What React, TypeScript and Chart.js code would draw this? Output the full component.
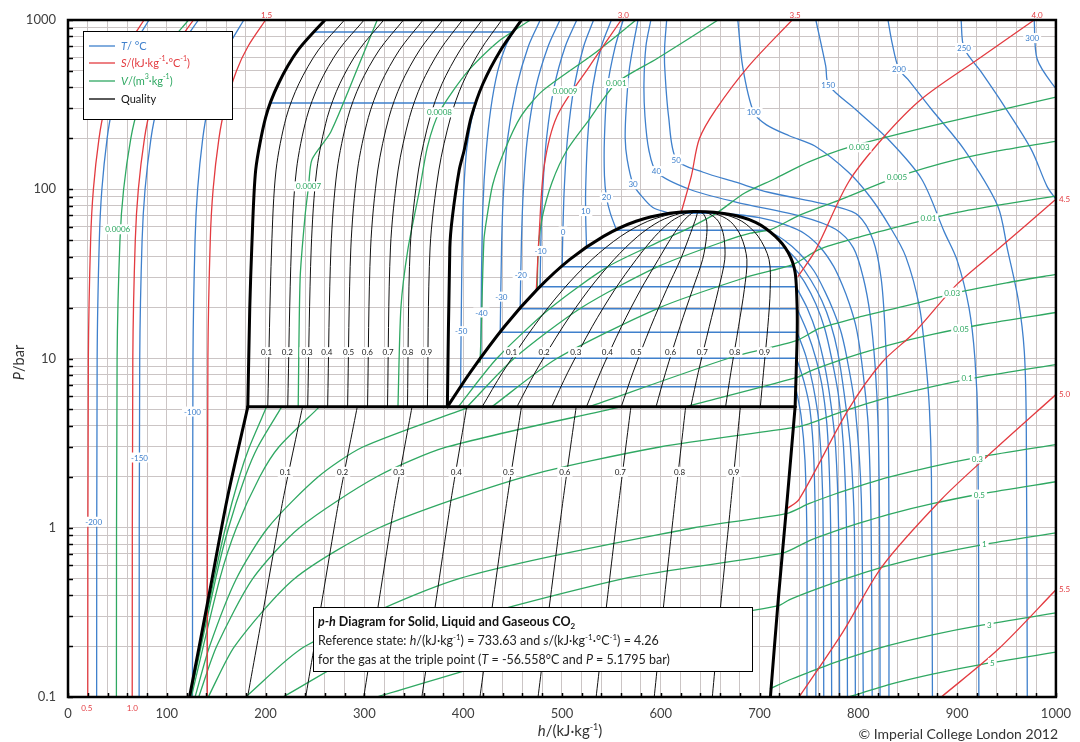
import { useEffect, useRef } from 'react';
import { Chart, registerables } from 'chart.js';

Chart.register(...registerables);

type Pt = [number, number];

// ---------------- axes ----------------
const hMin = 0;
const hMax = 1000;
const hGridStep = 20;
const hLabelStep = 100;
const pMin = 0.1;
const pMax = 1000;
const pDecades = [0.1, 1, 10, 100];
const pMantissas = [1, 2, 3, 4, 5, 6, 7, 8, 9];
const pLabelValues = [0.1, 1, 10, 100, 1000];

// ---------------- phase boundaries [h kJ/kg, p bar] ----------------
const solidMeltLine: Pt[] = [[182, 5.18], [184, 20], [186, 45], [190, 130], [200, 265], [213, 420], [233, 665], [260, 1000]];
const liquidMeltLine: Pt[] = [[384, 5.18], [386.5, 45], [389, 68], [396, 130], [401, 170], [408, 265], [420, 420], [438, 665], [459, 1000]];
const solidSublimationLine: Pt[] = [[123, 0.1], [142, 0.38], [161, 1.47], [182, 5.18]];
const vaporSublimationLine: Pt[] = [[711, 0.1], [719, 0.38], [728, 1.47], [736, 5.18]];
const tripleLine: Pt[] = [[182, 5.18], [736, 5.18]];
const saturationDome: Pt[] = [[384, 5.18], [407, 8.26], [442, 15.5], [475, 25.6], [508, 38.5], [542, 52.7], [575, 64.7], [609, 72.1], [636, 73.8], [669, 71.1], [696, 63.8], [716, 52.7], [729, 42.3], [736, 32.3], [738, 20.3], [738, 12.9], [736, 5.18]];

// ---------------- quality lines ----------------
const qualityValues = ['0.1', '0.2', '0.3', '0.4', '0.5', '0.6', '0.7', '0.8', '0.9'];
const qualitySLPressures = [5.18, 45, 130, 265, 420, 665, 1000];
const qualitySLEnthalpy = [
  [202.2, 206.1, 210.6, 220.8, 233.7, 253.5, 279.9],
  [222.4, 226.1, 231.2, 241.6, 254.4, 274, 299.8],
  [242.6, 246.2, 251.8, 262.4, 275.1, 294.5, 319.7],
  [262.8, 266.2, 272.4, 283.2, 295.8, 315, 339.6],
  [283, 286.3, 293, 304, 316.5, 335.5, 359.5],
  [303.2, 306.3, 313.6, 324.8, 337.2, 356, 379.4],
  [323.4, 326.4, 334.2, 345.6, 357.9, 376.5, 399.3],
  [343.6, 346.4, 354.8, 366.4, 378.6, 397, 419.2],
  [363.8, 366.5, 375.4, 387.2, 399.3, 417.5, 439.1],
];
const qualityDomePressures = [5.18, 8.3, 15.5, 25.6, 38.5, 52.7, 64.7, 72.1, 73.8];
const qualityDomeEnthalpy = [
  [419.2, 440, 471.6, 501.2, 530.4, 559.4, 586.9, 614.6, 636],
  [454.4, 473, 501.2, 527.4, 552.8, 576.8, 598.8, 620.2, 636],
  [489.6, 506, 530.8, 553.6, 575.2, 594.2, 610.7, 625.8, 636],
  [524.8, 539, 560.4, 579.8, 597.6, 611.6, 622.6, 631.4, 636],
  [560, 572, 590, 606, 620, 629, 634.5, 637, 636],
  [595.2, 605, 619.6, 632.2, 642.4, 646.4, 646.4, 642.6, 636],
  [630.4, 638, 649.2, 658.4, 664.8, 663.8, 658.3, 648.2, 636],
  [665.6, 671, 678.8, 684.6, 687.2, 681.2, 670.2, 653.8, 636],
  [700.8, 704, 708.4, 710.8, 709.6, 698.6, 682.1, 659.4, 636],
];
const qualitySVPressures = [0.1, 0.38, 1.47, 5.18];
const qualitySVEnthalpy = [
  [181.8, 199.7, 217.7, 237.4],
  [240.6, 257.4, 274.4, 292.8],
  [299.4, 315.1, 331.1, 348.2],
  [358.2, 372.8, 387.8, 403.6],
  [417, 430.5, 444.5, 459],
  [475.8, 488.2, 501.2, 514.4],
  [534.6, 545.9, 557.9, 569.8],
  [593.4, 603.6, 614.6, 625.2],
  [652.2, 661.3, 671.3, 680.6],
];

// ---------------- solid-region lines (h at solidRegionPressures) ----------------
const solidRegionPressures = [0.1, 10, 50, 100, 200, 300, 500, 700, 1000];
const isoSolidM200 = [29, 29.5, 31.7, 34.3, 39.6, 44.9, 55.5, 66.1, 82];
const isoSolidM150 = [72, 72.6, 75, 78, 84, 90, 102, 114, 132];
const isoSolidM100 = [126, 126.5, 128.6, 131.2, 136.4, 141.6, 152, 162.4, 178];
const entSolid05 = [20, 20.6, 22.9, 25.7, 31.4, 37.1, 48.5, 60, 77];
const entSolid10 = [65, 65.6, 68.1, 71.2, 77.4, 83.6, 96, 108.4, 127];
const entSolid15 = [141, 141.6, 144, 146.9, 152.8, 158.7, 170.5, 182.3, 200];
const volSolid0006 = [49, 49.7, 52.6, 56.3, 63.6, 70.9, 85.5, 100.1, 122];

// ---------------- isotherms ----------------
const satPressure = [6.8, 10.05, 14.3, 19.7, 26.5, 34.9, 45.0, 57.3, 72.1];
const satLiquidH = [397.4, 417.9, 437.5, 457.7, 477.8, 500.2, 524.9, 555.3, 609];
const satVaporH = [736.5, 737.4, 738, 738, 737, 734.5, 726, 708, 665];

const isoLiqM50: Pt[] = [[397.4, 6.8], [398.5, 30], [400, 80], [403, 160], [408, 250], [413, 323]];
const isoMeltM50: Pt[] = [[205.6, 323], [413, 323]];
const isoLiqM40: Pt[] = [[417.9, 10.05], [418.5, 30], [420, 80], [423, 160], [428, 300], [435, 500], [443, 700], [450.6, 849]];
const isoMeltM40: Pt[] = [[249, 849], [450.6, 849]];
const isoLiqM30: Pt[] = [[437.5, 14.3], [439, 50], [441, 100], [445, 200], [454, 400], [466, 700], [478, 1000]];
const isoLiqM20: Pt[] = [[457.7, 19.7], [459, 50], [461, 100], [465, 200], [473.5, 400], [486, 700], [498, 1000]];
const isoLiqM10: Pt[] = [[477.8, 26.5], [478.7, 50], [480.6, 100], [484.4, 200], [492, 400], [503.4, 700], [515, 1000]];
const isoLiq0: Pt[] = [[500.2, 34.9], [500.7, 50], [502.3, 100], [505.6, 200], [512.2, 400], [522, 700], [532, 1000]];
const isoLiq10: Pt[] = [[524.9, 45], [524, 70], [524, 100], [526, 200], [531, 400], [540, 700], [550, 1000]];
const isoLiq20: Pt[] = [[555.3, 57.3], [549, 72], [545, 90], [543, 120], [543, 200], [546, 400], [554, 700], [562, 1000]];
const isoLiq30: Pt[] = [[609, 72.1], [592, 78], [580, 92], [572, 107], [566, 150], [564, 200], [565, 300], [568, 500], [572, 700], [577, 1000]];

const isoVapM50: Pt[] = [[736.5, 6.8], [742, 4.6], [746, 2.5], [748, 0.8], [748, 0.1]];
const isoVapM40: Pt[] = [[737.4, 10.05], [745, 7.3], [751, 5], [755, 2.5], [757, 0.6], [757, 0.1]];
const isoVapM30: Pt[] = [[738, 14.3], [747, 10.3], [754, 7], [760, 4.2], [764, 1.5], [765, 0.1]];
const isoVapM20: Pt[] = [[738, 19.7], [748, 14.5], [757, 10], [764, 6.5], [769, 3.5], [772, 1], [773, 0.1]];
const isoVapM10: Pt[] = [[737, 26.5], [748, 20], [758, 14], [766, 9], [772, 5.5], [777, 3], [780, 1], [781, 0.1]];
const isoVap0: Pt[] = [[734.5, 34.9], [746, 28], [757, 21], [766, 15], [773, 10], [780, 6], [785, 3], [788, 1], [789, 0.1]];
const isoVap10: Pt[] = [[726, 45], [738, 38], [752, 29], [763, 22], [772, 16], [779, 11], [786, 6], [792, 3], [796, 1], [797, 0.1]];
const isoVap20: Pt[] = [[708, 57.3], [725, 50], [740, 42], [755, 33], [766, 25], [775, 19], [783, 14], [790, 9], [797, 5], [803, 1.5], [805, 0.1]];
const isoVap30: Pt[] = [[665, 72.1], [700, 68], [725, 62], [745, 55], [762, 45], [775, 35], [784, 27], [791, 21], [797, 16], [801, 12], [805, 8], [810, 4], [813, 1], [814, 0.1]];
const iso40: Pt[] = [[590, 1000], [585, 700], [583, 420], [584, 270], [588, 170], [596, 126], [629, 100], [676, 84], [743, 69], [777, 58], [795, 45], [805, 30], [812, 18], [817, 9], [820, 4], [821.5, 1], [822, 0.1]];
const iso50: Pt[] = [[606, 1000], [604, 700], [604, 527], [608, 267], [616, 149], [643, 126], [676, 110], [709, 96], [777, 79], [800, 70], [815, 50], [823, 30], [827, 15], [830, 5], [831, 1], [831, 0.1]];
const iso100: Pt[] = [[678, 1000], [683, 527], [694, 286], [707, 240], [730, 207], [756, 180], [790, 126], [812, 90], [832, 60], [848, 40], [862, 20], [868, 10], [872, 5], [874, 2], [875, 0.1]];
const iso150: Pt[] = [[757, 1000], [767, 534], [770, 412], [797, 297], [830, 198], [864, 115], [887, 56], [900, 38], [912, 20], [918, 10], [921, 4], [922, 0.1]];
const iso200: Pt[] = [[830, 1000], [834, 741], [841, 513], [850, 447], [874, 297], [907, 172], [941, 80], [951, 44], [962, 22], [968, 11], [970, 4], [971, 0.1]];
const iso250: Pt[] = [[904, 1000], [907, 683], [924.5, 492], [947.7, 310], [975, 172], [991, 104], [1000, 87], [1010, 70]];
const iso300: Pt[] = [[978, 1000], [981, 588], [998, 407], [1010, 350]];

// ---------------- isentropes ----------------
const ent30: Pt[] = [[474, 25], [477, 55.5], [482, 137], [495, 270], [528, 534], [560, 1000]];
const ent35: Pt[] = [[621, 74], [631, 120], [639, 198], [656, 297], [689, 534], [733, 1000]];
const ent40: Pt[] = [[739, 30.6], [757, 44], [790, 110], [824, 198], [864, 341], [920, 580], [978, 1000]];
const ent45: Pt[] = [[728, 1.3], [740, 1.47], [790, 5.0], [824, 9.5], [857, 14.3], [900, 27.5], [941, 44], [1000, 87.3]];
const ent50: Pt[] = [[740, 0.1], [784, 0.24], [824, 0.59], [884, 1.47], [930, 2.63], [1000, 6.12]];
const ent55: Pt[] = [[884, 0.1], [941, 0.19], [1000, 0.43]];

// ---------------- isochores ----------------
const vol0007: Pt[] = [[233, 5.18], [235, 30], [240, 70], [243.5, 104], [247, 150], [266, 218], [294, 534], [313, 1000]];
const vol0008: Pt[] = [[334, 5.18], [337, 20], [344, 44], [356, 100], [364, 180], [376, 286], [404, 492], [435, 741], [468, 1000]];
const vol0009: Pt[] = [[417, 9.5], [418, 13], [421, 50], [424, 68], [430, 107], [442, 170], [458, 267], [480, 380], [532, 630], [575, 1000]];
const vol0010: Pt[] = [[475, 26], [476, 44], [480, 68], [490, 110], [505, 170], [528, 260], [555, 424], [596, 590], [658, 1000]];
const vol0003: Pt[] = [[395, 5.18], [434, 10], [489, 20], [547, 35], [602, 50], [631, 60], [656, 72], [685, 95], [715, 115], [750, 145], [790, 177], [890, 249], [1000, 350]];
const vol0005: Pt[] = [[404, 5.18], [451.5, 10], [520, 20], [597.6, 35], [667.5, 50], [691, 55], [712, 58], [740, 70], [780, 86], [839, 118], [900, 150], [950, 172], [1000, 192]];
const vol001: Pt[] = [[429, 5.18], [494.8, 10], [599, 20], [685, 30], [734, 36], [760, 44], [800, 52], [850, 62], [900, 73], [950, 82], [1000, 91]];
const vol003: Pt[] = [[527, 5.18], [668, 10], [738, 12.8], [760, 15], [800, 17.5], [850, 20.6], [900, 24.5], [950, 28], [1000, 31.4]];
const vol005: Pt[] = [[625, 5.18], [737, 7.7], [750, 8.37], [775, 9.48], [800, 10.6], [830, 11.97], [875, 13.87], [925, 15.88], [1000, 18.7]];
const vol0003SV: Pt[] = [[123.4, 0.1], [147.9, 0.5], [159.4, 1], [173.4, 2], [183.6, 3], [201, 5.18]];
const vol0005SV: Pt[] = [[123.8, 0.1], [149.5, 0.5], [162.5, 1], [179.3, 2], [192.1, 3], [216.3, 5.18]];
const vol001SV: Pt[] = [[124.8, 0.1], [153.7, 0.5], [170.5, 1], [194.1, 2], [213.4, 3], [254.5, 5.18]];
const vol003SV: Pt[] = [[128.6, 0.1], [143.4, 0.2], [170.4, 0.5], [202.4, 1], [253.3, 2], [298.5, 3], [407, 5.18]];
const vol005SV: Pt[] = [[132.3, 0.1], [150.6, 0.2], [187, 0.5], [234.3, 1], [312.5, 2], [383.6, 3], [559.6, 5.18]];
const vol01: Pt[] = [[142, 0.1], [168.8, 0.2], [229.2, 0.5], [315, 1], [462, 2], [599, 3], [734, 3.9], [750, 4.115], [775, 4.66], [800, 5.21], [830, 5.89], [875, 6.82], [925, 7.81], [1000, 9.2]];
const vol03: Pt[] = [[179.8, 0.1], [240.5, 0.2], [395.9, 0.5], [633.7, 1], [726.7, 1.21], [750, 1.387], [775, 1.572], [800, 1.756], [830, 1.984], [875, 2.299], [925, 2.632], [1000, 3.1]];
const vol05: Pt[] = [[217.5, 0.1], [312.5, 0.2], [562.3, 0.5], [723, 0.707], [750, 0.837], [775, 0.948], [800, 1.06], [830, 1.197], [875, 1.387], [925, 1.588], [1000, 1.87]];
const vol1: Pt[] = [[312.4, 0.1], [491.9, 0.2], [718.4, 0.345], [730, 0.375], [750, 0.418], [775, 0.473], [800, 0.529], [830, 0.598], [875, 0.693], [925, 0.793], [1000, 0.934]];
const vol3: Pt[] = [[711, 0.112], [730, 0.126], [750, 0.14], [775, 0.159], [800, 0.178], [830, 0.201], [875, 0.233], [925, 0.266], [1000, 0.314]];
const vol5: Pt[] = [[790, 0.1], [800, 0.104], [830, 0.118], [875, 0.1365], [925, 0.156], [1000, 0.184]];

// ---------------- curve labels ----------------
const tempLabelText = ['-200', '-150', '-100', '-50', '-40', '-30', '-20', '-10', '0', '10', '20', '30', '40', '50', '100', '150', '200', '250', '300'];
const tempLabelH = [26, 72.4, 126, 398, 418.5, 438.6, 458.3, 478.4, 501, 524, 545, 572, 595.6, 615.7, 694, 769.6, 841, 907, 976];
const tempLabelP = [1.085, 2.6, 4.86, 14.5, 18.7, 23.2, 31, 43.2, 56.3, 74.3, 89.5, 107, 128, 150, 285, 413, 513, 683, 782];
const volLabelText = ['0.0006', '0.0007', '0.0008', '0.0009', '0.001', '0.003', '0.005', '0.01', '0.03', '0.05', '0.1', '0.3', '0.5', '1', '3', '5'];
const volLabelH = [50.3, 243.5, 376, 503, 555, 801, 839, 871, 895, 904, 910, 920.5, 922.5, 927.5, 932.6, 935.6];
const volLabelP = [58, 104, 285, 380, 424, 177, 118, 67.3, 24.5, 14.9, 7.73, 2.56, 1.57, 0.8, 0.267, 0.159];
const qualityLabelSLH = [201, 222, 242, 262, 284, 303, 324, 344, 363];
const qualityLabelSLP = 10.9;
const qualityLabelDomeH = [449, 482, 514, 546, 575, 610, 642, 675, 705];
const qualityLabelDomeP = 10.9;
const qualityLabelSVH = [220, 278, 335, 393, 446, 503, 559, 619, 674];
const qualityLabelSVP = 2.14;
const entLabelTopText = ['1.5', '3.0', '3.5', '4.0'];
const entLabelTopH = [201, 562, 736, 981];
const entLabelRightText = ['4.5', '5.0', '5.5'];
const entLabelRightP = [87.3, 6.12, 0.43];
const entLabelBottomText = ['0.5', '1.0'];
const entLabelBottomH = [19, 65];

// ---------------- styling ----------------
const FONT = 'Lato, "Open Sans", "Liberation Sans", sans-serif';
const BLUE = '#3f80cc';
const RED = '#e33b40';
const GREEN = '#2fa862';
const BLACK = '#111111';
const GRID = '#cbc5c5';

type Part = { t: string; i?: boolean; b?: boolean; sup?: boolean; sub?: boolean };

function partFont(p: Part, size: number) {
  const s = p.sup || p.sub ? Math.round(size * 0.62) : size;
  return `${p.i ? 'italic ' : ''}${p.b ? 'bold ' : ''}${s}px ${FONT}`;
}
function drawRich(ctx: CanvasRenderingContext2D, parts: Part[], x: number, y: number, size: number, color: string, align: 'left' | 'center' | 'right' = 'left') {
  let total = 0;
  for (const p of parts) { ctx.font = partFont(p, size); total += ctx.measureText(p.t).width; }
  let cx = align === 'center' ? x - total / 2 : align === 'right' ? x - total : x;
  ctx.fillStyle = color;
  ctx.textAlign = 'left';
  for (const p of parts) {
    ctx.font = partFont(p, size);
    const dy = p.sup ? -size * 0.38 : p.sub ? size * 0.2 : 0;
    ctx.fillText(p.t, cx, y + dy);
    cx += ctx.measureText(p.t).width;
  }
}

const zip = (hs: number[], ps: number[]): Pt[] => hs.map((h, i) => [h, ps[i]]);

function line(pts: Pt[], color: string, width: number, order = 2, tension = 0.3) {
  return {
    data: pts.map(([h, p]) => ({ x: h, y: p })),
    borderColor: color,
    backgroundColor: color,
    borderWidth: width,
    showLine: true,
    pointRadius: 0,
    tension,
    order,
    fill: false,
  };
}

function buildDatasets() {
  const ds: any[] = [];
  [solidMeltLine, liquidMeltLine, solidSublimationLine, vaporSublimationLine, tripleLine, saturationDome].forEach((pts) => ds.push(line(pts, '#000', 3, 0, 0.25)));
  qualitySLEnthalpy.forEach((hs) => ds.push(line(zip(hs, qualitySLPressures), BLACK, 1, 1, 0.3)));
  qualityDomeEnthalpy.forEach((hs) => ds.push(line(zip(hs, qualityDomePressures), BLACK, 1, 1, 0.3)));
  qualitySVEnthalpy.forEach((hs) => ds.push(line(zip(hs, qualitySVPressures), BLACK, 1, 1, 0.2)));
  [entSolid05, entSolid10, entSolid15].forEach((hs) => ds.push(line(zip(hs, solidRegionPressures), RED, 1.3, 2)));
  [ent30, ent35, ent40, ent45, ent50, ent55].forEach((pts) => ds.push(line(pts, RED, 1.3, 2)));
  ds.push(line(zip(volSolid0006, solidRegionPressures), GREEN, 1.3, 3));
  [vol0007, vol0008, vol0009, vol0010, vol0003, vol0005, vol001, vol003, vol005, vol0003SV, vol0005SV, vol001SV, vol003SV, vol005SV, vol01, vol03, vol05, vol1, vol3, vol5].forEach((pts) => ds.push(line(pts, GREEN, 1.3, 3, 0.25)));
  [isoSolidM200, isoSolidM150, isoSolidM100].forEach((hs) => ds.push(line(zip(hs, solidRegionPressures), BLUE, 1.3, 4)));
  satPressure.forEach((p, i) => ds.push(line([[satLiquidH[i], p], [satVaporH[i], p]], BLUE, 1.5, 4, 0)));
  [isoMeltM50, isoMeltM40].forEach((pts) => ds.push(line(pts, BLUE, 1.5, 4, 0)));
  [isoLiqM50, isoLiqM40, isoLiqM30, isoLiqM20, isoLiqM10, isoLiq0, isoLiq10, isoLiq20, isoLiq30,
    isoVapM50, isoVapM40, isoVapM30, isoVapM20, isoVapM10, isoVap0, isoVap10, isoVap20, isoVap30,
    iso40, iso50, iso100, iso150, iso200, iso250, iso300].forEach((pts) => ds.push(line(pts, BLUE, 1.3, 4, 0.3)));
  return ds;
}

const yTickValues = pDecades.flatMap((d) => pMantissas.map((m) => Number((d * m).toPrecision(6)))).concat([pMax]);

const overlayPlugin = {
  id: 'phOverlay',
  afterDatasetsDraw(chart: any) {
    const { ctx, scales } = chart;
    const x = scales.x, y = scales.y;
    ctx.save();
    const tag = (text: string, h: number, p: number, color: string) => {
      const px = x.getPixelForValue(h), py = y.getPixelForValue(p);
      ctx.font = `8px ${FONT}`;
      const w = ctx.measureText(text).width;
      ctx.fillStyle = '#fff';
      ctx.fillRect(px - w / 2 - 2, py - 5, w + 4, 10);
      ctx.fillStyle = color;
      ctx.textAlign = 'center';
      ctx.textBaseline = 'middle';
      ctx.fillText(text, px, py + 0.5);
    };
    tempLabelText.forEach((t, i) => tag(t, tempLabelH[i], tempLabelP[i], BLUE));
    volLabelText.forEach((t, i) => tag(t, volLabelH[i], volLabelP[i], GREEN));
    qualityValues.forEach((t, i) => tag(t, qualityLabelSLH[i], qualityLabelSLP, '#222'));
    qualityValues.forEach((t, i) => tag(t, qualityLabelDomeH[i], qualityLabelDomeP, '#222'));
    qualityValues.forEach((t, i) => tag(t, qualityLabelSVH[i], qualityLabelSVP, '#222'));

    // legend box
    ctx.fillStyle = '#fff';
    ctx.fillRect(83, 31, 150, 89);
    ctx.strokeStyle = '#000';
    ctx.lineWidth = 1;
    ctx.strokeRect(83.5, 31.5, 149, 88);
    const legendRows: [Part[], string, number][] = [
      [[{ t: 'T', i: true }, { t: '/ °C' }], BLUE, 46],
      [[{ t: 'S', i: true }, { t: '/(kJ·kg' }, { t: '-1', sup: true }, { t: '·°C' }, { t: '-1', sup: true }, { t: ')' }], RED, 63],
      [[{ t: 'V', i: true }, { t: '/(m' }, { t: '3', sup: true }, { t: '·kg' }, { t: '-1', sup: true }, { t: ')' }], GREEN, 81],
      [[{ t: 'Quality' }], '#111', 99],
    ];
    ctx.textBaseline = 'middle';
    legendRows.forEach(([parts, color, ly]) => {
      ctx.strokeStyle = color === '#111' ? '#000' : color;
      ctx.lineWidth = 1.3;
      ctx.beginPath();
      ctx.moveTo(89, ly);
      ctx.lineTo(115, ly);
      ctx.stroke();
      drawRich(ctx, parts, 121, ly, 11, color);
    });

    // info box
    ctx.fillStyle = '#fff';
    ctx.fillRect(313, 607, 440, 65);
    ctx.strokeStyle = '#000';
    ctx.lineWidth = 1;
    ctx.strokeRect(313.5, 607.5, 439, 64);
    ctx.textBaseline = 'alphabetic';
    drawRich(ctx, [{ t: 'p-h', i: true, b: true }, { t: ' Diagram for Solid, Liquid and Gaseous CO', b: true }, { t: '2', b: true, sub: true }], 318, 626, 12.5, '#111');
    drawRich(ctx, [{ t: 'Reference state: ' }, { t: 'h', i: true }, { t: '/(kJ·kg' }, { t: '-1', sup: true }, { t: ') = 733.63 and ' }, { t: 's', i: true }, { t: '/(kJ·kg' }, { t: '-1', sup: true }, { t: '·°C' }, { t: '-1', sup: true }, { t: ') = 4.26' }], 318, 645, 12.5, '#222');
    drawRich(ctx, [{ t: 'for the gas at the triple point (' }, { t: 'T', i: true }, { t: ' = -56.558°C and ' }, { t: 'P', i: true }, { t: ' = 5.1795 bar)' }], 318, 664, 12.5, '#222');
    ctx.restore();
  },
  afterDraw(chart: any) {
    const { ctx, chartArea: a, scales } = chart;
    const x = scales.x, y = scales.y;
    ctx.save();
    ctx.strokeStyle = '#000';
    ctx.lineWidth = 1.5;
    yTickValues.forEach((v) => {
      const py = Math.round(y.getPixelForValue(v)) + 0.5;
      ctx.beginPath();
      ctx.moveTo(a.left, py);
      ctx.lineTo(a.left + 5, py);
      ctx.stroke();
    });
    for (let h = hMin; h <= hMax; h += hGridStep) {
      const px = Math.round(x.getPixelForValue(h)) + 0.5;
      ctx.beginPath();
      ctx.moveTo(px, a.bottom);
      ctx.lineTo(px, a.bottom - 4);
      ctx.stroke();
    }
    ctx.lineWidth = 2.5;
    ctx.strokeRect(a.left, a.top, a.right - a.left, a.bottom - a.top);
    ctx.font = `8px ${FONT}`;
    ctx.fillStyle = RED;
    ctx.textAlign = 'center';
    ctx.textBaseline = 'middle';
    entLabelTopText.forEach((t, i) => ctx.fillText(t, x.getPixelForValue(entLabelTopH[i]), a.top - 5));
    entLabelBottomText.forEach((t, i) => ctx.fillText(t, x.getPixelForValue(entLabelBottomH[i]), a.bottom + 11));
    ctx.textAlign = 'left';
    entLabelRightText.forEach((t, i) => ctx.fillText(t, a.right + 3, y.getPixelForValue(entLabelRightP[i])));
    ctx.textBaseline = 'alphabetic';
    drawRich(ctx, [{ t: 'h', i: true }, { t: '/(kJ·kg' }, { t: '-1', sup: true }, { t: ')' }], 570, 736, 15, '#333', 'center');
    ctx.save();
    ctx.translate(24, (a.top + a.bottom) / 2 + 4);
    ctx.rotate(-Math.PI / 2);
    drawRich(ctx, [{ t: 'P', i: true }, { t: '/bar' }], 0, 0, 14.5, '#333', 'center');
    ctx.restore();
    drawRich(ctx, [{ t: '© Imperial College London 2012' }], 1058, 739, 14, '#333', 'right');
    ctx.restore();
  },
};

export default function App() {
  const ref = useRef<HTMLCanvasElement>(null);
  useEffect(() => {
    const chart = new Chart(ref.current as HTMLCanvasElement, {
      type: 'scatter',
      data: { datasets: buildDatasets() },
      options: {
        responsive: false,
        animation: false,
        devicePixelRatio: 1,
        events: [],
        layout: { padding: { top: 20, right: 18, left: 0, bottom: 0 } },
        plugins: { legend: { display: false }, tooltip: { enabled: false } },
        elements: { point: { radius: 0 }, line: { borderCapStyle: 'round', borderJoinStyle: 'round' } },
        scales: {
          x: {
            type: 'linear',
            min: hMin,
            max: hMax,
            afterFit: (s: any) => { s.height = 45; },
            ticks: {
              stepSize: hGridStep,
              autoSkip: false,
              maxRotation: 0,
              padding: 9,
              color: '#404040',
              font: { family: FONT, size: 13 },
              callback: (v: any) => (Math.round(Number(v)) % hLabelStep === 0 ? String(Math.round(Number(v))) : ''),
            },
            grid: { color: GRID, drawTicks: false, lineWidth: 1 },
            border: { display: false },
          },
          y: {
            type: 'logarithmic',
            min: pMin,
            max: pMax,
            afterFit: (s: any) => { s.width = 68; },
            afterBuildTicks: (s: any) => { s.ticks = yTickValues.map((v) => ({ value: v })); },
            ticks: {
              autoSkip: false,
              padding: 12,
              color: '#404040',
              font: { family: FONT, size: 13 },
              callback: (v: any) => (pLabelValues.includes(Number(v)) ? String(v) : ''),
            },
            grid: { color: GRID, drawTicks: false, lineWidth: 1 },
            border: { display: false },
          },
        },
      },
      plugins: [overlayPlugin],
    } as any);
    return () => chart.destroy();
  }, []);
  return (
    <div style={{ position: 'fixed', left: 0, top: 0, width: 1080, height: 742, background: '#fff' }}>
      <canvas ref={ref} width={1080} height={742} style={{ width: 1080, height: 742, display: 'block' }} />
    </div>
  );
}
